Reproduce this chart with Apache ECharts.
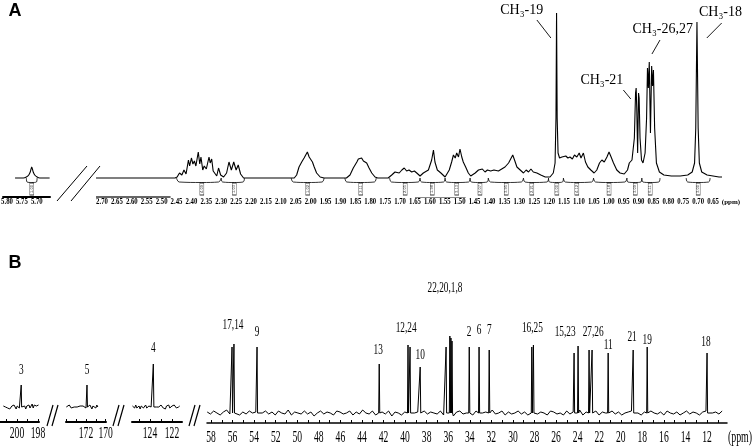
<!DOCTYPE html>
<html>
<head>
<meta charset="utf-8">
<script src="https://cdn.jsdelivr.net/npm/echarts@6/dist/echarts.min.js"></script>
<style>
  html, body { margin: 0; padding: 0; background: #fff; }
  #chart { width: 753px; height: 446px; }
</style>
</head>
<body>
<div id="chart"></div>
<script>
// ---------- panel A : 1H spectrum (ppm, height above baseline) ----------
const hInset = [[5.773,0],[5.745,0],[5.735,1],[5.727,3],[5.722,6],[5.717,11],[5.712,6],[5.707,3],[5.699,1],[5.690,0],[5.657,0]]
const hMain = [
  [2.72,0],[2.455,0],[2.448,1],[2.440,5],[2.432,3],[2.425,8],[2.418,4],[2.410,18],[2.406,12],[2.400,20],[2.395,14],
  [2.390,17],[2.385,12],[2.377,26],[2.372,14],[2.368,21],[2.362,8],[2.357,12],[2.350,9],[2.341,21],[2.337,15],
  [2.332,19],[2.327,7],[2.321,8],[2.315,2],[2.309,10],[2.302,3],[2.292,1],
  [2.282,5],[2.274,16],[2.266,8],[2.258,16],[2.250,8],[2.243,13],[2.235,4],[2.225,0],
  [2.055,0],[2.047,3],[2.039,11],[2.030,16],[2.022,20],[2.017,18],[2.011,26],[2.005,21],[2.000,20],[1.994,16],
  [1.988,11],[1.980,5],[1.968,1],[1.955,0],
  [1.880,0],[1.868,3],[1.857,10],[1.845,16],[1.840,19],[1.834,18],[1.829,20],[1.823,17],[1.817,19],[1.812,15],
  [1.804,10],[1.795,5],[1.784,1],[1.775,0],
  [1.740,0],[1.728,3],[1.717,6],[1.711,8],[1.703,5],[1.694,8],[1.686,10],[1.678,7],[1.670,8],[1.661,6],[1.652,7],
  [1.644,5],[1.633,2],[1.622,5],[1.605,8],[1.594,18],[1.588,28],[1.583,16],[1.575,8],[1.563,5],[1.549,1],
  [1.535,8],[1.527,16],[1.521,23],[1.515,20],[1.510,25],[1.504,21],[1.499,29],[1.493,21],[1.488,16],[1.480,11],
  [1.471,5],[1.463,2],[1.448,5],[1.437,8],[1.432,6],[1.424,9],[1.415,6],[1.407,8],[1.396,7],[1.385,8],[1.370,7],
  [1.359,9],[1.348,11],[1.336,15],[1.329,19],[1.322,23],[1.316,18],[1.308,11],[1.297,8],[1.286,5],[1.277,8],
  [1.269,6],[1.261,9],[1.253,6],[1.241,5],[1.228,3],[1.213,1],[1.197,1],[1.186,5],[1.180,15],[1.177,60],
  [1.175,165],[1.173,60],[1.170,25],[1.165,20],[1.157,21],[1.152,19],[1.144,22],[1.137,20],[1.130,21],[1.122,19],
  [1.115,23],[1.107,21],[1.099,25],[1.093,20],[1.085,25],[1.078,16],[1.070,11],[1.060,8],[1.049,5],[1.040,8],
  [1.031,15],[1.023,18],[1.015,16],[1.006,21],[0.999,26],[0.992,21],[0.984,15],[0.973,8],[0.962,5],[0.948,4],
  [0.937,8],[0.931,15],[0.922,18],[0.914,40],[0.910,85],[0.908,90],[0.906,70],[0.903,25],[0.900,85],[0.898,80],
  [0.895,40],[0.890,18],[0.885,15],[0.878,25],[0.873,60],[0.870,110],[0.867,90],[0.864,116],[0.860,45],
  [0.856,112],[0.853,92],[0.850,108],[0.846,50],[0.840,15],[0.830,6],[0.815,3],[0.790,2],[0.760,2],[0.735,3],
  [0.720,6],[0.712,15],[0.708,50],[0.704,156],[0.700,50],[0.696,15],[0.688,6],[0.670,3],[0.650,2],[0.630,1],[0.620,1]
]
const tickA = ['2.70','2.65','2.60','2.55','2.50','2.45','2.40','2.35','2.30','2.25','2.20','2.15','2.10','2.05',
  '2.00','1.95','1.90','1.85','1.80','1.75','1.70','1.65','1.60','1.55','1.50','1.45','1.40','1.35','1.30','1.25',
  '1.20','1.15','1.10','1.05','1.00','0.95','0.90','0.85','0.80','0.75','0.70','0.65']
const tickAInset = ['5.80','5.75','5.70']
// integral regions: [from, to, stem]
const intInset = [[5.735, 5.699, 5.717]]
const intMain = [[2.45,2.30,2.365],[2.30,2.222,2.256],[2.065,1.955,2.01],[1.885,1.78,1.832],[1.735,1.633,1.683],
  [1.633,1.549,1.592],[1.549,1.465,1.510],[1.465,1.404,1.432],[1.404,1.286,1.344],[1.286,1.202,1.258],
  [1.202,1.152,1.174],[1.152,1.051,1.107],[1.051,0.939,0.999],[0.939,0.889,0.911],[0.889,0.828,0.861],[0.74,0.66,0.70]]
const intInsetText = ['1.00']
const intMainText = ['4.09','1.03','1.02','2.11','2.05','1.98','3.13','2.07','3.95','2.21','3.00','4.12','3.18','3.09','6.11','3.00']
const hLabels = [['CH₃-19',1.292,168],['CH₃-21',1.023,98],['CH₃-26,27',0.819,149],['CH₃-18',0.625,166]]
const hLeaders = [[1.241,158,1.194,140],[0.951,88,0.926,79],[0.828,138,0.855,124],[0.621,155,0.671,140]]

// ---------- panel B : 13C spectrum ----------
const cPeak3 = [[199.6,22]]
const cPeak5 = [[171.9,22]]
const cPeak4 = [[123.7,43]]
const cPeakMain = [[56.05,66],[55.87,69],[53.73,66],[42.4,49],[39.73,68],[39.54,66],[38.6,46],[36.2,66],[35.85,77],
  [35.75,75],[35.65,72],[34.05,66],[33.14,66],[32.2,63],[28.25,66],[28.1,68],[24.33,60],[23.96,67],[22.94,63],
  [22.66,63],[21.17,60],[18.85,63],[17.55,66],[12.0,60]]
const cNoise3 = [1,-1,0,2,-1,1,-2,0,1,-1,2,0,-2,1,0,-1,1,2,-1,0,1,-2,1,0,2,-1,1,3,-1,2,0,1,-1,2]
const cNoise5 = [0,1,-1,2,0,-1,1,-2,0,1,-1,0,2,-1,1,0,-1,1,0,2,-1,0,1,-1,2,0,-2,1,0,1,-1,2,0,1]
const cNoise4 = [1,0,-1,2,-1,0,1,-2,1,0,-1,1,2,-1,0,1,-1,0,2,-1,1,-2,0,1,0,-1,2,0,-1,1,-2,1,0,2,-1,0,1,-1,2,0,-1,1,0,1]
const cNoiseMain = [
  1,-1,2,0,-2,1,3,-1,0,2,-2,1,-1,2,0,1,-2,0,2,-1,
  1,-2,2,0,-1,3,-2,1,0,-1,2,-1,1,-3,0,2,-1,1,0,-2,
  2,1,-1,0,2,-2,1,-1,3,0,-1,2,-2,0,1,-1,2,-3,1,0,
  -2,1,2,-1,0,1,-2,2,-1,1,0,-1,2,-2,1,0,-3,1,2,-1,
  0,1,-2,2,-1,0,1,-2,3,-1,0,2,-2,1,-1,0,2,-1,1,-2,
  0,2,-1,1,0,-2,2,1,-1,0,-2,2,-1,1,0,3,-2,1,-1,0,
  2,-2,1,0,-1,2,-1,1,-2,0,1,2,-1,0,-2,1,-1,2,0,-1,
  1,-2,2,0,-1,1,-2,0,2,-1,1,0,-2,1,2,-1,0,1,-1,2]
const tickB3 = [200,198]
const tickB5 = [172,170]
const tickB4 = [124,122]
const tickBMain = [58,56,54,52,50,48,46,44,42,40,38,36,34,32,30,28,26,24,22,20,18,16,14,12]
const cLabels = [['17,14',55.96,88],['9',53.73,81],['13',42.5,63],['12,24',39.9,85],['10',38.6,58],
  ['22,20,1,8',36.3,125],['2',34.07,81],['6',33.14,83],['7',32.2,83],['16,25',28.2,85],['15,23',25.16,81],
  ['27,26',22.56,81],['11',21.17,68],['21',18.95,76],['19',17.55,73],['18',12.1,71]]
const cInsetLabels = [[2,'3',199.6,37],[3,'5',171.9,37],[4,'4',123.7,59]]

// build a trace from a noise baseline plus narrow peaks
function trace(noise, from, to, peaks, w) {
  const step = (from - to) / (noise.length - 1)
  const pts = []
  noise.forEach((n, i) => {
    const x = from - i * step
    if (peaks.some(p => Math.abs(p[0] - x) < w * 1.6)) return
    pts.push([x, n])
  })
  peaks.forEach(p => { pts.push([p[0] + w, 0], [p[0], p[1]], [p[0] - w, 0]) })
  pts.sort((a, b) => b[0] - a[0])
  return pts
}

const black = '#000'
const grids = [
  { left: 3, width: 47, top: 8, bottom: 249 },
  { left: 96, width: 626, top: 8, bottom: 249 },
  { left: 0, width: 39, top: 312, bottom: 24 },
  { left: 66, width: 40, top: 312, bottom: 24 },
  { left: 132, width: 50, top: 312, bottom: 24 },
  { left: 207, width: 520, top: 313, bottom: 23 }
]
const xRanges = [[5.6557,5.8134],[0.62,2.7201],[197.905,201.62],[169.97,174.03],[121.09,125.64],[10.15,58.37]]

const xAxis = xRanges.map((r, i) => {
  const ax = {
    gridIndex: i, type: 'value', inverse: true, min: r[0], max: r[1],
    splitLine: { show: false },
    axisLine: { show: i !== 1, onZero: false, lineStyle: { color: black, width: 2 } },
    axisTick: { show: false },
    axisLabel: { show: false }
  }
  if (i >= 2) {
    const lo = Math.ceil(r[0]), hi = Math.floor(r[1]), ticks = []
    for (let v = lo; v <= hi; v++) ticks.push(v)
    ax.axisTick = { show: true, inside: true, length: 3, customValues: ticks, lineStyle: { color: black, width: 1 } }
    if (i === 5) ax.axisLine.lineStyle.width = 1.5
  }
  return ax
})
const yAxis = grids.map((g, i) => ({
  gridIndex: i, type: 'value', show: false,
  min: i <= 1 ? -19 : (i === 5 ? -10 : -15), max: i <= 1 ? 170 : (i === 5 ? 100 : 95)
}))

const lineBase = { type: 'line', showSymbol: false, silent: true, animation: false,
  lineStyle: { color: black, width: 1 } }

const series = [
  Object.assign({}, lineBase, { xAxisIndex: 0, yAxisIndex: 0, data: hInset, smooth: 0.3, lineStyle: { color: black, width: 1.1 } }),
  Object.assign({}, lineBase, { xAxisIndex: 1, yAxisIndex: 1, data: hMain, lineStyle: { color: black, width: 1.1 },
    markLine: { silent: true, symbol: 'none', label: { show: false }, animation: false,
      data: [
        [{ coord: [2.72, -19], lineStyle: { color: '#333', width: 1.5, type: 'solid' } }, { coord: [2.47, -19] }],
        [{ coord: [1.65, -19], lineStyle: { color: '#888', width: 1, type: 'solid' } }, { coord: [1.48, -19] }]
      ] } }),
  Object.assign({}, lineBase, { xAxisIndex: 2, yAxisIndex: 2, data: trace(cNoise3, 201.3, 197.95, cPeak3, 0.04) }),
  Object.assign({}, lineBase, { xAxisIndex: 3, yAxisIndex: 3, data: trace(cNoise5, 174.0, 170.7, cPeak5, 0.05) }),
  Object.assign({}, lineBase, { xAxisIndex: 4, yAxisIndex: 4, data: trace(cNoise4, 125.6, 121.3, cPeak4, 0.05) }),
  Object.assign({}, lineBase, { xAxisIndex: 5, yAxisIndex: 5, data: trace(cNoiseMain, 58.35, 10.6, cPeakMain, 0.05) })
]

// integral brackets and their value boxes
function integrals(regions, texts, gi) {
  regions.forEach(r => {
    const d = (r[0] - r[1]) * 0.06
    series.push(Object.assign({}, lineBase, {
      xAxisIndex: gi, yAxisIndex: gi, smooth: 0.4, lineStyle: { color: black, width: 0.8 },
      data: [[r[0], 0], [r[0] - d, -4], [r[2], -4.5], [r[1] + d, -4], [r[1], 0]]
    }))
  })
  series.push({
    type: 'scatter', xAxisIndex: gi, yAxisIndex: gi, silent: true, animation: false,
    symbol: 'rect', symbolSize: [4, 12],
    itemStyle: { color: '#fff', borderColor: black, borderWidth: 0.7 },
    label: { show: true, position: 'inside', rotate: 90, fontSize: 4, color: black,
      formatter: p => texts[p.dataIndex] },
    data: regions.map(r => [r[2], -11])
  })
}
integrals(intInset, intInsetText, 0)
integrals(intMain, intMainText, 1)

const chart = echarts.init(document.getElementById('chart'))
chart.setOption({ animation: false, backgroundColor: '#fff', grid: grids, xAxis, yAxis, series })

// texts and decorations placed through the axes
const px = (gi, x, y) => chart.convertToPixel({ gridIndex: gi }, [x, y])
function txt(p, text, font, sx) {
  return { type: 'text', x: p[0], y: p[1], scaleX: sx || 1, silent: true, z: 50,
    style: { text, font, fill: black, textAlign: 'center', textVerticalAlign: 'middle', align: 'center', verticalAlign: 'middle' } }
}
function seg(a, b, w) {
  return { type: 'line', silent: true, z: 50, shape: { x1: a[0], y1: a[1], x2: b[0], y2: b[1] },
    style: { stroke: black, lineWidth: w || 1 } }
}
const serif = 'Liberation Serif'
const els = []
els.push(txt([15, 11], 'A', 'bold 18px "Liberation Sans"'))
els.push(txt([15, 263], 'B', 'bold 18px "Liberation Sans"'))
hLabels.forEach(l => els.push(txt(px(1, l[1], l[2]), l[0], '14px "' + serif + '"')))
hLeaders.forEach(l => els.push(seg(px(1, l[0], l[1]), px(1, l[2], l[3]), 0.9)))
// A axis labels
;[[0, tickAInset], [1, tickA]].forEach(([gi, ticks]) => {
  ticks.forEach(t => { const p = px(gi, Number(t), -19); els.push(txt([p[0], p[1] + 5], t, 'bold 7.5px "' + serif + '"', 0.9)) })
})
els.push(txt([731, 202], '(ppm)', 'bold 7px "' + serif + '"'))
// break marks
els.push(seg([57, 201], [87, 166], 1), seg([71, 201], [100, 166], 1))
const breaksB = [47, 113, 189]
breaksB.forEach(x0 => { els.push(seg([x0, 426], [x0 + 6, 405], 1.2), seg([x0 + 5, 426], [x0 + 11, 405], 1.2)) })
// B axis labels
;[[2, tickB3], [3, tickB5], [4, tickB4]].forEach(([gi, ticks]) => {
  ticks.forEach(v => { const p = px(gi, v, -15); els.push(txt([p[0], p[1] + 12], String(v), '16px "' + serif + '"', 0.6)) })
})
tickBMain.forEach(v => { const p = px(5, v, -10); els.push(txt([p[0], p[1] + 15], String(v), '16px "' + serif + '"', 0.6)) })
els.push(txt([740, 438], '(ppm)', '16px "' + serif + '"', 0.62))
// B peak labels
cLabels.forEach(l => els.push(txt(px(5, l[1], l[2]), l[0], '15px "' + serif + '"', 0.62)))
cInsetLabels.forEach(l => els.push(txt(px(l[0], l[2], l[3]), l[1], '15px "' + serif + '"', 0.62)))
chart.setOption({ graphic: { elements: els } })
</script>
</body>
</html>
